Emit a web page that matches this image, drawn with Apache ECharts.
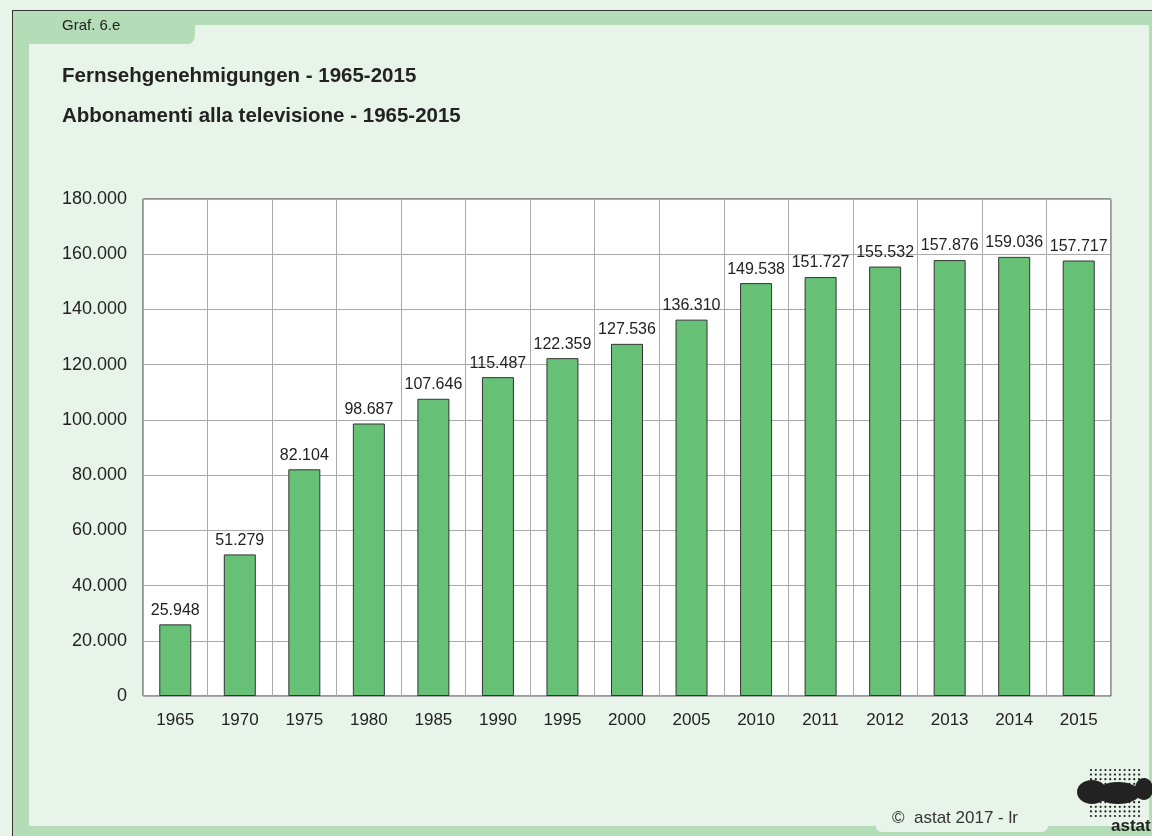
<!DOCTYPE html>
<html>
<head>
<meta charset="utf-8">
<script src="https://cdn.jsdelivr.net/npm/echarts@6/dist/echarts.min.js"></script>
<style>
  html, body { margin: 0; padding: 0; background: #fff; }
  #main { width: 1152px; height: 836px; }
</style>
</head>
<body>
<div id="main"></div>
<script>
// Daten
var years = ['1965', '1970', '1975', '1980', '1985', '1990', '1995', '2000', '2005', '2010', '2011', '2012', '2013', '2014', '2015'];
var abbonamenti = [25948, 51279, 82104, 98687, 107646, 115487, 122359, 127536, 136310, 149538, 151727, 155532, 157876, 159036, 157717];
var yTicks = [0, 20000, 40000, 60000, 80000, 100000, 120000, 140000, 160000, 180000];

var band = '#b3dcb7';
var light = '#e8f4e9';
var font = 'Liberation Sans, Arial, sans-serif';

function fmt(v) {
  return String(v).replace(/\B(?=(\d{3})+(?!\d))/g, '.');
}

// Logo (nur Dekoration)
var logo = [
  { type: 'ellipse', shape: { cx: 1092, cy: 792, rx: 15, ry: 12 }, style: { fill: '#222' } },
  { type: 'ellipse', shape: { cx: 1118, cy: 793, rx: 22, ry: 11 }, style: { fill: '#222' } },
  { type: 'ellipse', shape: { cx: 1144, cy: 789, rx: 9, ry: 11 }, style: { fill: '#222' } }
];
for (var r = 0; r < 11; r++) {
  for (var c = 0; c < 11; c++) {
    logo.push({
      type: 'circle',
      shape: { cx: 1091 + c * 4.8, cy: 770 + r * 4.6, r: 1.1 },
      style: { fill: '#222' }
    });
  }
}
logo.push({ type: 'text', left: 1111, top: 818, style: { text: 'astat', fill: '#222', font: 'bold 17px ' + font } });

var myChart = echarts.init(document.getElementById('main'));

var option = {
  backgroundColor: light,
  animation: false,
  textStyle: { fontFamily: font },
  graphic: [
    // Rahmen
    { type: 'rect', shape: { x: 12, y: 11, width: 1140, height: 14 }, style: { fill: band } },
    { type: 'rect', shape: { x: 12, y: 11, width: 183, height: 33, r: [0, 0, 8, 0] }, style: { fill: band } },
    { type: 'rect', shape: { x: 12, y: 11, width: 17, height: 825 }, style: { fill: band } },
    { type: 'rect', shape: { x: 1149, y: 11, width: 3, height: 825 }, style: { fill: band } },
    { type: 'rect', shape: { x: 12, y: 826, width: 1140, height: 10 }, style: { fill: band } },
    { type: 'rect', shape: { x: 876, y: 800, width: 172, height: 32, r: [0, 0, 6, 6] }, style: { fill: light } },
    { type: 'line', shape: { x1: 12, y1: 10.5, x2: 1152, y2: 10.5 }, style: { stroke: '#333', lineWidth: 1 } },
    { type: 'line', shape: { x1: 12.5, y1: 10, x2: 12.5, y2: 836 }, style: { stroke: '#333', lineWidth: 1 } },
    { type: 'text', left: 62, top: 18, style: { text: 'Graf. 6.e', fill: '#222', font: '15px ' + font } },
    { type: 'text', left: 62, top: 66, style: { text: 'Fernsehgenehmigungen - 1965-2015', fill: '#222', font: 'bold 20.5px ' + font } },
    { type: 'text', left: 62, top: 106, style: { text: 'Abbonamenti alla televisione - 1965-2015', fill: '#222', font: 'bold 20.5px ' + font } },
    { type: 'text', left: 892, top: 810, style: { text: '©  astat 2017 - lr', fill: '#333', font: '17px ' + font } }
  ].concat(logo),
  grid: {
    left: 143, top: 199, width: 968, height: 497,
    show: true, backgroundColor: '#fff', borderColor: '#333', borderWidth: 1
  },
  xAxis: {
    type: 'category',
    data: years,
    axisLine: { show: false },
    axisTick: { show: false },
    splitLine: { show: true, lineStyle: { color: '#aaa', width: 1 } },
    axisLabel: { color: '#222', fontSize: 17, margin: 16 }
  },
  yAxis: {
    type: 'value',
    min: yTicks[0],
    max: yTicks[yTicks.length - 1],
    interval: yTicks[1] - yTicks[0],
    axisLine: { show: false },
    axisTick: { show: false },
    splitLine: { show: true, lineStyle: { color: '#aaa', width: 1 } },
    axisLabel: { color: '#222', fontSize: 18, margin: 16, formatter: fmt }
  },
  series: [{
    name: 'Abbonamenti',
    type: 'bar',
    data: abbonamenti,
    barWidth: 32,
    itemStyle: { color: '#66c177', borderColor: '#333', borderWidth: 1 },
    label: {
      show: true, position: 'top', distance: 6,
      color: '#222', fontSize: 16,
      formatter: function (p) { return fmt(p.value); }
    }
  }]
};

myChart.setOption(option);
</script>
</body>
</html>
